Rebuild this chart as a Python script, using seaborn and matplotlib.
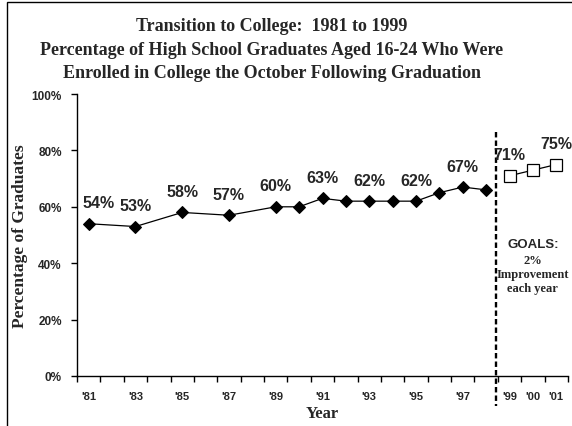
import numpy as np
import pandas as pd
import matplotlib
matplotlib.use("Agg")
import matplotlib.pyplot as plt
import seaborn as sns
from matplotlib.patches import Rectangle

# ---- data ----
axis_years = ["'81", "'82", "'83", "'84", "'85", "'86", "'87", "'88", "'89", "'90",
              "'91", "'92", "'93", "'94", "'95", "'96", "'97", "'98",
              "'99", "'00", "'01"]
actual_years = ["'81", "'83", "'85", "'87", "'89", "'90",
                "'91", "'92", "'93", "'94", "'95", "'96", "'97", "'98"]
actual_values = [54, 53, 58, 57, 60, 60,
                 63, 62, 62, 62, 62, 65, 67, 66]
goal_years = ["'99", "'00", "'01"]
goal_values = [71, 73, 75]
labeled_years = ["'81", "'83", "'85", "'87", "'89", "'91", "'93", "'95", "'97", "'99", "'01"]
shown_tick_labels = ["'81", "'83", "'85", "'87", "'89", "'91", "'93", "'95", "'97",
                     "'99", "'00", "'01"]
y_ticks = [0, 20, 40, 60, 80, 100]
title_lines = ["Transition to College:  1981 to 1999",
               "Percentage of High School Graduates Aged 16-24 Who Were",
               "Enrolled in College the October Following Graduation"]

sns.set_style("white")
plt.rcParams["font.family"] = ["Liberation Sans", "DejaVu Sans"]

pos = {y: i for i, y in enumerate(axis_years)}
df_act = pd.DataFrame({"x": [pos[y] for y in actual_years], "v": actual_values})
df_goal = pd.DataFrame({"x": [pos[y] for y in goal_years], "v": goal_values})
value_of = dict(zip(actual_years + goal_years, actual_values + goal_values))

fig = plt.figure(figsize=(5.72, 4.27), dpi=100)
ax = fig.add_axes([77 / 572, 1 - 377 / 427, (568 - 77) / 572, (377 - 95) / 427])

sns.lineplot(data=df_act, x="x", y="v", ax=ax, color="black", linewidth=0.9,
             marker="D", markersize=6.5, markerfacecolor="black",
             markeredgecolor="black", clip_on=False)
sns.lineplot(data=df_goal, x="x", y="v", ax=ax, color="black", linewidth=0.9,
             marker="s", markersize=8, markerfacecolor="white",
             markeredgecolor="black", markeredgewidth=0.9, clip_on=False)

n = len(axis_years)
ax.set_xlim(-0.5, n - 0.5)
ax.set_ylim(0, 100)

for s in ["top", "right"]:
    ax.spines[s].set_visible(False)
for s in ["left", "bottom"]:
    ax.spines[s].set_color("black")
    ax.spines[s].set_linewidth(1.0)

# y ticks
ax.set_yticks(y_ticks)
ax.set_yticklabels([f"{v}%" for v in y_ticks], fontsize=8.5, fontweight="bold")
ax.tick_params(axis="y", which="major", direction="out", length=4, width=1,
               color="black", pad=7, left=True)

# x ticks: marks at category boundaries, labels at centers
ax.set_xticks(np.arange(-0.5, n, 1.0))
ax.set_xticklabels([])
ax.tick_params(axis="x", which="major", direction="out", length=4, width=1,
               color="black", bottom=True)
ax.set_xticks(np.arange(n), minor=True)
ax.set_xticklabels([y if y in shown_tick_labels else "" for y in axis_years],
                   minor=True, fontsize=8, fontweight="bold")
ax.tick_params(axis="x", which="minor", length=0, pad=11)

ax.set_xlabel("Year", family=["Liberation Serif"], fontsize=12,
              fontweight="bold", labelpad=3)
ax.set_ylabel("Percentage of Graduates", family=["Liberation Serif"], fontsize=12.5,
              fontweight="bold")
ax.yaxis.set_label_coords(-0.1, 0.5)
ax.grid(False)

# data labels
for i, yr in enumerate(labeled_years):
    dx = 7 if i == 0 else 0
    ax.annotate(f"{value_of[yr]:.0f}%", (pos[yr], value_of[yr]),
                xytext=(dx, 15), textcoords="offset points",
                ha="center", va="center", fontsize=11.5, fontweight="bold",
                annotation_clip=False)

# divider between actual and goals
div_x = len(axis_years) - len(goal_years) - 0.6
ax.plot([div_x, div_x], [0.865, -0.106], transform=ax.get_xaxis_transform(),
        color="black", lw=1.7, linestyle=(0, (2.3, 1.3)), clip_on=False)

# goals text
gx = pos[goal_years[1]]
ax.text(gx, 46.8, "GOALS:", ha="center", va="center", fontsize=9.5, fontweight="bold")
ax.text(gx, 36.2, "2%\nImprovement\neach year", ha="center", va="center",
        family=["Liberation Serif"], fontsize=9, fontweight="bold", linespacing=1.25)

# title
baselines = [31, 55, 78]
for line, by in zip(title_lines, baselines):
    fig.text(272 / 572, 1 - by / 427, line, ha="center", va="baseline",
             family=["Liberation Serif"], fontsize=13, fontweight="bold")

# figure border (cropped at right and bottom)
fig.add_artist(Rectangle((7 / 572, -0.2), 1.5, 1.2 - 2.5 / 427,
                         transform=fig.transFigure, fill=False,
                         edgecolor="black", lw=1.0, clip_on=False))

fig.savefig("out.png", dpi=100)
